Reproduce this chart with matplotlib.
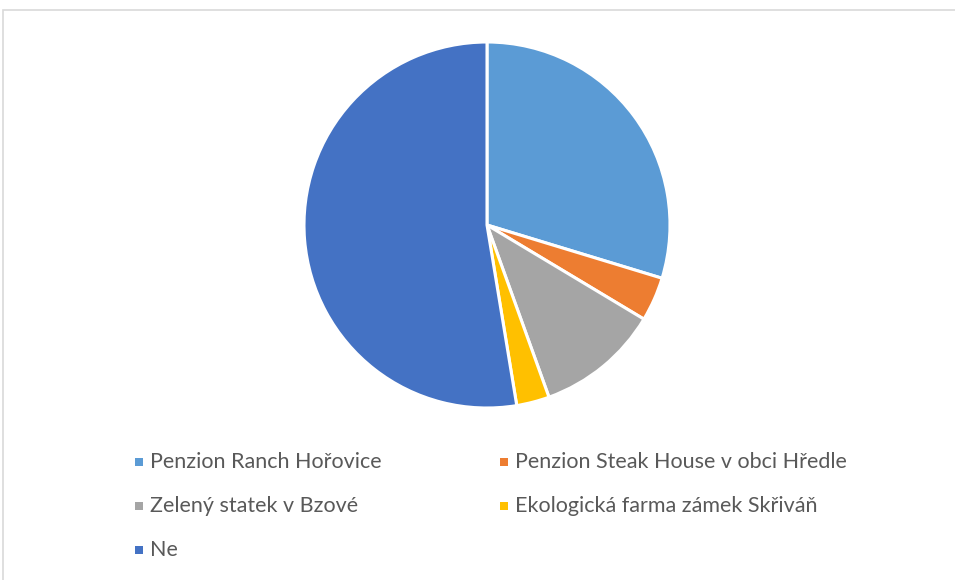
import matplotlib
matplotlib.use('Agg')
import matplotlib.pyplot as plt
from matplotlib.patches import Rectangle

labels = ['Penzion Ranch Hořovice', 'Penzion Steak House v obci Hředle',
          'Zelený statek v Bzové', 'Ekologická farma zámek Skřiváň', 'Ne']
values = [29.7, 3.9, 10.9, 2.9, 52.6]
colors = ['#5B9BD5', '#ED7D31', '#A5A5A5', '#FFC000', '#4472C4']

W, H = 955, 580
fig = plt.figure(figsize=(W / 100, H / 100), dpi=100)
plt.rcParams['font.family'] = ['Lato', 'DejaVu Sans']

# chart frame
fig.patches.append(Rectangle((3 / W, -0.1), 1.2, (H - 10) / H + 0.1,
                             transform=fig.transFigure, fill=False,
                             edgecolor='#d9d9d9', linewidth=1.2))

cx, cy, r = 487, 225, 183
ax = fig.add_axes([(cx - r) / W, (H - cy - r) / H, 2 * r / W, 2 * r / H])
ax.pie(values, colors=colors, startangle=90, counterclock=False, radius=1,
       wedgeprops=dict(edgecolor='white', linewidth=2.2))
ax.set_xlim(-1, 1)
ax.set_ylim(-1, 1)
ax.set_aspect('equal')
ax.axis('off')

# legend, filled row by row
for i, (lab, col) in enumerate(zip(labels, colors)):
    x = 135 + (i % 2) * 365
    y = 462 + (i // 2) * 44
    fig.patches.append(Rectangle((x / W, (H - y - 4) / H), 8 / W, 8 / H,
                                 transform=fig.transFigure, facecolor=col,
                                 edgecolor='none'))
    fig.text((x + 15) / W, (H - y) / H, lab, fontsize=15.5, color='#595959',
             va='center', ha='left')

fig.savefig('out.png', dpi=100)
